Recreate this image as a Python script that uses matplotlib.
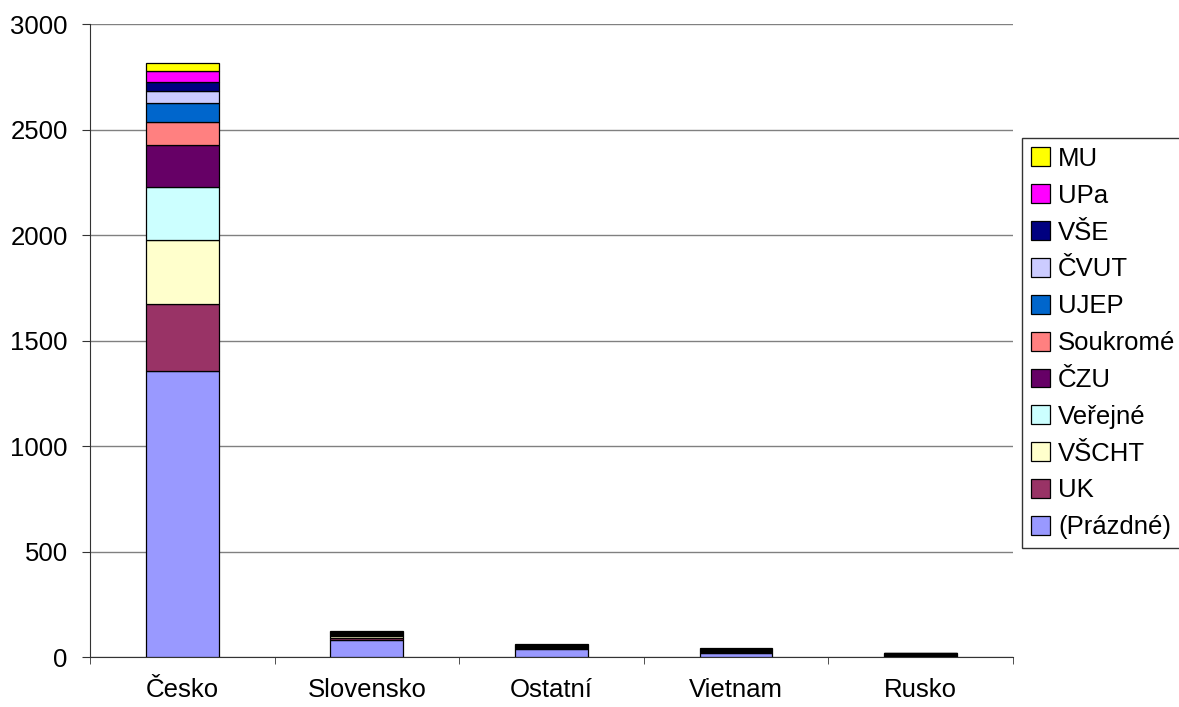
import numpy as np
import matplotlib.pyplot as plt

plt.rcParams["font.family"] = ["Liberation Sans", "DejaVu Sans"]

# Categories (countries) and stacked series (universities)
countries = ["Česko", "Slovensko", "Ostatní", "Vietnam", "Rusko"]

prazdne = [1356, 82, 39, 20, 3]
uk = [317, 8, 4, 3, 2]
vscht = [304, 9, 4, 4, 1]
verejne = [251, 3, 2, 2, 1]
czu = [199, 4, 2, 2, 2]
soukrome = [109, 2, 1, 2, 1]
ujep = [90, 3, 2, 2, 2]
cvut = [57, 3, 2, 2, 2]
vse = [44, 4, 2, 2, 3]
upa = [51, 2, 1, 1, 2]
mu = [36, 3, 1, 1, 2]

series_names = ["(Prázdné)", "UK", "VŠCHT", "Veřejné", "ČZU", "Soukromé",
                "UJEP", "ČVUT", "VŠE", "UPa", "MU"]
series_values = [prazdne, uk, vscht, verejne, czu, soukrome,
                 ujep, cvut, vse, upa, mu]
colors = ["#9999FF", "#993366", "#FFFFCC", "#CCFFFF", "#660066", "#FF8080",
          "#0066CC", "#CCCCFF", "#000080", "#FF00FF", "#FFFF00"]

fig = plt.figure(figsize=(11.79, 7.07), dpi=100)
ax = fig.add_axes([0.0763, 0.0707, 0.7828, 0.8953])

x = np.arange(len(countries))
bottom = np.zeros(len(countries))
handles = []
for name, vals, col in zip(series_names, series_values, colors):
    b = ax.bar(x, vals, bottom=bottom, width=0.395, color=col,
               edgecolor="black", linewidth=0.9, label=name, zorder=3)
    handles.append(b)
    bottom += np.array(vals)

ax.set_xlim(-0.5, len(countries) - 0.5)
ax.set_ylim(0, 3000)
ax.set_yticks(np.arange(0, 3001, 500))
ax.set_xticks(x)
ax.set_xticklabels(countries)
ax.set_xticks(np.arange(-0.5, len(countries)), minor=True)
ax.tick_params(axis="x", which="major", length=0, pad=15, labelsize=18.5)
ax.tick_params(axis="x", which="minor", length=5, direction="out", color="#333333")
ax.tick_params(axis="y", length=6, direction="out", color="#333333", labelsize=18.5, pad=10)

ax.yaxis.grid(True, color="#808080", linewidth=1, zorder=0)
ax.set_axisbelow(True)
for s in ["top", "right"]:
    ax.spines[s].set_visible(False)
ax.spines["left"].set_color("#333333")
ax.spines["bottom"].set_color("#333333")

leg = fig.legend(handles[::-1], series_names[::-1], loc="upper left",
                 bbox_to_anchor=(0.867, 0.805), fontsize=18.5,
                 handlelength=0.75, handleheight=0.75, handletextpad=0.3,
                 labelspacing=0.5, borderpad=0.35, borderaxespad=0,
                 fancybox=False, frameon=True)
leg.get_frame().set_edgecolor("black")
leg.get_frame().set_linewidth(1)

fig.savefig("out.png", dpi=100)
